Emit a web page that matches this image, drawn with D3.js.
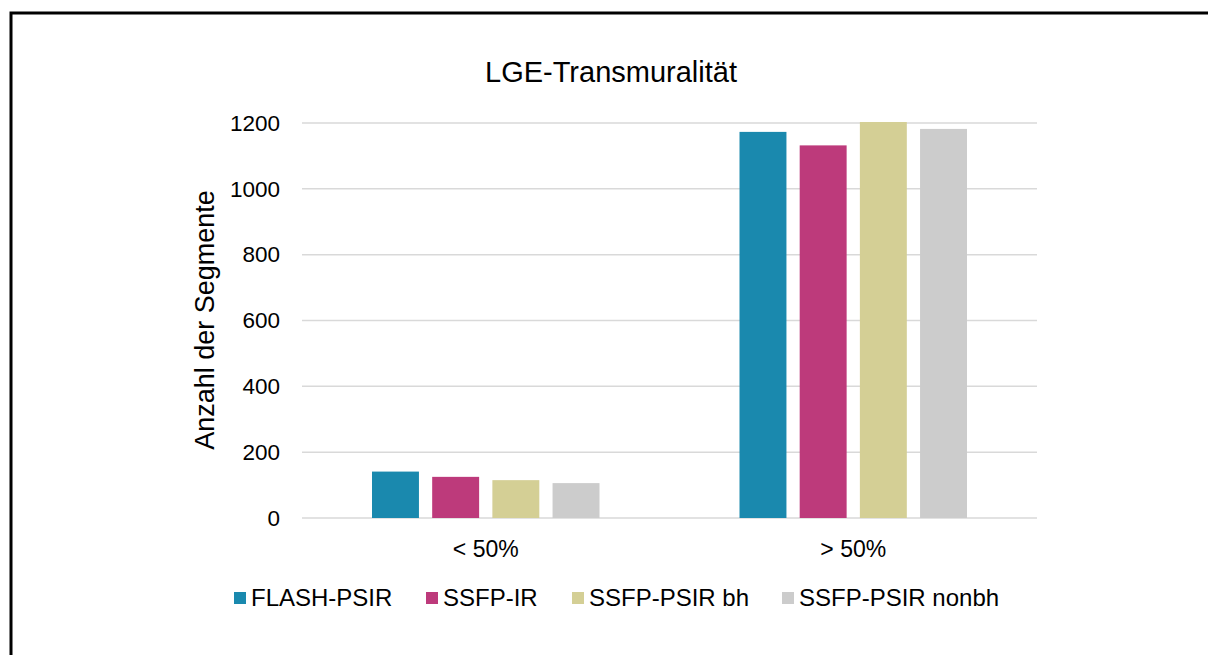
<!DOCTYPE html>
<html>
<head>
<meta charset="utf-8">
<script src="https://cdn.jsdelivr.net/npm/d3@7"></script>
<style>
  body { margin: 0; background: #fff; }
  text { font-family: "Liberation Sans", Arial, sans-serif; fill: #000; }
</style>
</head>
<body>
<svg id="chart" width="1208" height="655"></svg>
<script>
const categories = ["< 50%", "> 50%"];
const seriesNames = ["FLASH-PSIR", "SSFP-IR", "SSFP-PSIR bh", "SSFP-PSIR nonbh"];
const seriesColors = ["#1A89AE", "#BD3A7B", "#D4CF95", "#CCCCCC"];
// values per series, one per category
const flashPsir = [141, 1173];
const ssfpIr = [125, 1132];
const ssfpPsirBh = [115, 1203];
const ssfpPsirNonbh = [106, 1182];
const yTicks = [0, 200, 400, 600, 800, 1000, 1200];

const seriesValues = [flashPsir, ssfpIr, ssfpPsirBh, ssfpPsirNonbh];

const svg = d3.select("#chart");
const margin = {left: 302, right: 171, top: 123, bottom: 137};
const width = 1208 - margin.left - margin.right,
      height = 655 - margin.top - margin.bottom;

// outer frame (cropped at right and bottom)
svg.append("path")
  .attr("d", "M11,700 V13 H1220")
  .attr("fill", "none")
  .attr("stroke", "#000")
  .attr("stroke-width", 3);

const g = svg.append("g").attr("transform", `translate(${margin.left},${margin.top})`);

const x0 = d3.scaleBand().domain(categories).range([0, width]);
const x1 = d3.scaleBand().domain(seriesNames).range([70, x0.bandwidth() - 70]).paddingInner(0.22);
const y = d3.scaleLinear().domain([0, 1200]).range([height, 0]);

// gridlines
g.append("g")
  .selectAll("line")
  .data(yTicks)
  .enter().append("line")
    .attr("x1", 0).attr("x2", width)
    .attr("y1", d => y(d)).attr("y2", d => y(d))
    .attr("stroke", "#D9D9D9")
    .attr("stroke-width", 1.5);

// y tick labels
const yAxis = g.append("g")
  .attr("transform", "translate(-22,0)")
  .call(d3.axisLeft(y).tickValues(yTicks).tickFormat(d3.format("d")).tickSize(0).tickPadding(0));
yAxis.select(".domain").remove();
yAxis.attr("font-size", null).attr("font-family", null);
yAxis.selectAll("text")
  .style("font-size", "22.5px")
  .attr("fill", "#000");

// bars
const groups = g.append("g")
  .selectAll("g")
  .data(categories)
  .enter().append("g")
    .attr("transform", d => `translate(${x0(d)},0)`);

groups.selectAll("rect")
  .data((c, ci) => seriesNames.map((s, si) => ({series: s, value: seriesValues[si][ci], color: seriesColors[si]})))
  .enter().append("rect")
    .attr("x", d => x1(d.series))
    .attr("width", x1.bandwidth())
    .attr("y", d => y(d.value))
    .attr("height", d => y(0) - y(d.value))
    .attr("fill", d => d.color);

// x axis labels
const xAxis = g.append("g")
  .attr("transform", `translate(0,${height + 23})`)
  .call(d3.axisBottom(x0).tickSize(0).tickPadding(0));
xAxis.select(".domain").remove();
xAxis.attr("font-size", null).attr("font-family", null);
xAxis.selectAll("text")
  .style("font-size", "23px")
  .attr("fill", "#000");

// title
svg.append("text")
  .attr("x", 611).attr("y", 82)
  .attr("text-anchor", "middle")
  .style("font-size", "29px")
  .text("LGE-Transmuralität");

// y axis title
svg.append("text")
  .attr("transform", "translate(214,320) rotate(-90)")
  .attr("text-anchor", "middle")
  .style("font-size", "27px")
  .text("Anzahl der Segmente");

// legend
const legendX = [234, 426, 572, 782];
const legend = svg.append("g")
  .selectAll("g")
  .data(seriesNames)
  .enter().append("g")
    .attr("transform", (d, i) => `translate(${legendX[i]},592)`);
legend.append("rect")
  .attr("width", 12).attr("height", 12)
  .attr("fill", (d, i) => seriesColors[i]);
legend.append("text")
  .attr("x", 17).attr("y", 14)
  .style("font-size", "24px")
  .text(d => d);
</script>
</body>
</html>
